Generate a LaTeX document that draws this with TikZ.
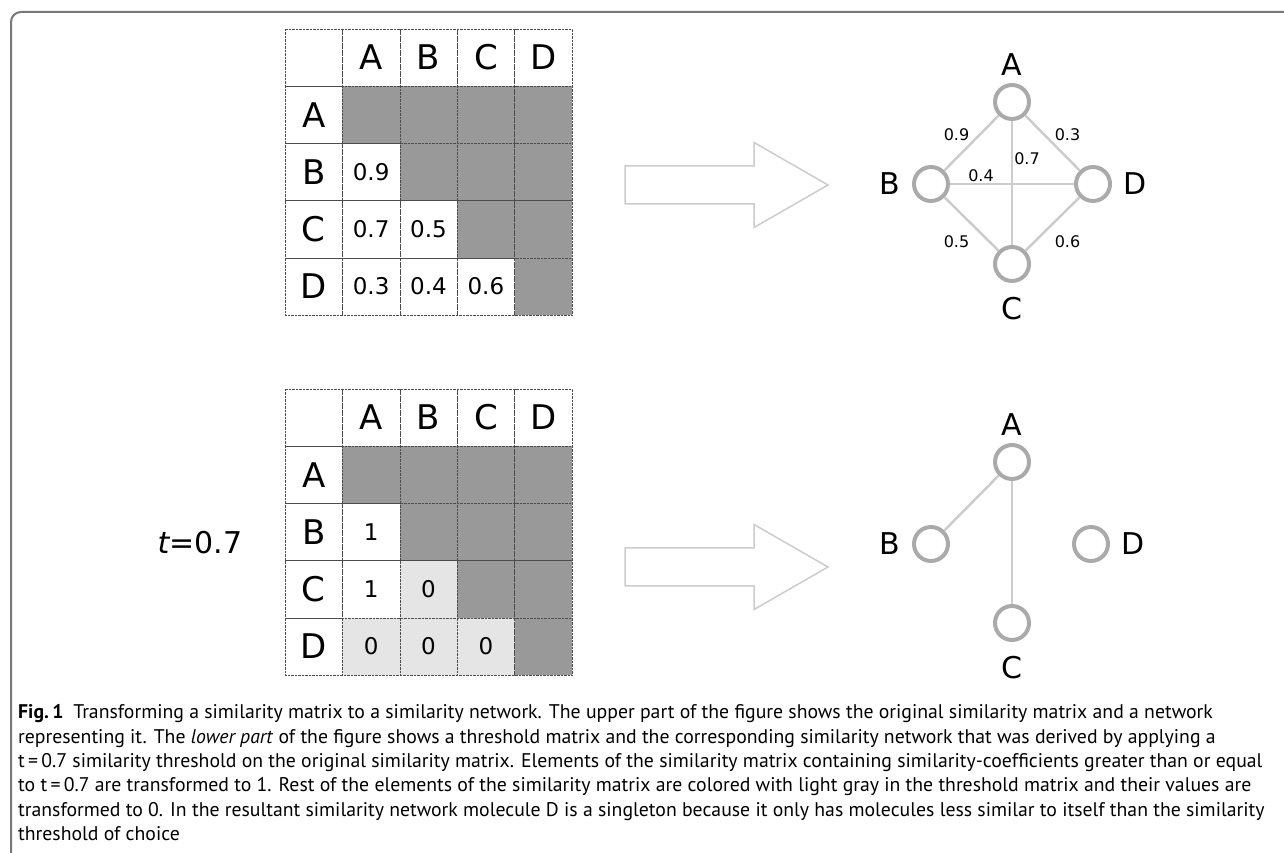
\documentclass[tikz,border=0pt]{standalone}
\usepackage{fontspec}
\setmainfont{DejaVu Sans}
\newfontfamily\capfont{PT Sans}
\usetikzlibrary{matrix, positioning}
\definecolor{darkcell}{RGB}{153,153,153}
\definecolor{lightcell}{RGB}{229,229,229}
\definecolor{ringgray}{RGB}{170,170,170}
\definecolor{edgegray}{RGB}{204,204,204}
\definecolor{framegray}{RGB}{120,120,120}
\tikzset{
    cellnode/.style = {draw=black!70, densely dotted, rectangle, minimum width=57.5pt,
      minimum height=57.3pt, inner sep=0pt, anchor=center, font=\fontsize{23}{23}\selectfont},
    headnode/.style = {font=\fontsize{34}{34}\selectfont},
    dk/.style = {fill=darkcell},
    lt/.style = {fill=lightcell},
    ringnode/.style = {circle, draw=ringgray, line width=4pt, minimum size=34pt, inner sep=0pt, fill=white},
    namenode/.style = {font=\fontsize{30}{30}\selectfont, inner sep=0pt},
    weightnode/.style = {font=\fontsize{16}{16}\selectfont, inner sep=1pt},
    link/.style = {draw=edgegray, line width=2.5pt},
    bigarrow/.style = {draw=edgegray, line width=1.5pt, line join=miter},
    simmatrix/.style = {matrix of nodes, nodes in empty cells, nodes={cellnode},
      column sep=-0.5pt, row sep=-0.5pt,
      row 1/.style={nodes={headnode}}, column 1/.style={nodes={headnode}}}
}

\begin{document}
\begin{tikzpicture}[x=1pt, y=1pt]
\useasboundingbox (0,0) rectangle (1284,853);
\draw[framegray, line width=2pt, rounded corners=10pt] (1284,841) -- (11,841) -- (11,0);

% upper part: similarity matrix and its network
\matrix[simmatrix, name=simmat] at (428.5,681) {
      & A & B & C & D \\
    A & |[dk]| & |[dk]| & |[dk]| & |[dk]| \\
    B & 0.9 & |[dk]| & |[dk]| & |[dk]| \\
    C & 0.7 & 0.5 & |[dk]| & |[dk]| \\
    D & 0.3 & 0.4 & 0.6 & |[dk]| \\
};
\coordinate (arrowtop) at (625,668);
\draw[bigarrow] (arrowtop) ++(0,19) -- ++(129,0) -- ++(0,23.5) -- ++(74,-42.5)
  -- ++(-74,-42.5) -- ++(0,23.5) -- ++(-129,0) -- cycle;

\node[ringnode, name=nA] at (1012,751) {};
\node[ringnode, name=nB] at (931,669) {};
\node[ringnode, name=nD] at (1093,669) {};
\node[ringnode, name=nC] at (1012,589) {};
\node[namenode, above=7pt of nA] (lA) {A};
\node[namenode, left=12pt of nB] (lB) {B};
\node[namenode, right=11pt of nD] (lD) {D};
\node[namenode, below=14pt of nC] (lC) {C};
\draw[link] (nA) -- node[weightnode, above left] (wAB) {0.9} (nB);
\draw[link] (nA) -- node[weightnode, above right] (wAD) {0.3} (nD);
\draw[link] (nA) -- node[weightnode, pos=0.3, right] (wAC) {0.7} (nC);
\draw[link] (nB) -- node[weightnode, pos=0.25, above] (wBD) {0.4} (nD);
\draw[link] (nB) -- node[weightnode, below left, yshift=-9pt] (wBC) {0.5} (nC);
\draw[link] (nD) -- node[weightnode, below right, yshift=-9pt] (wDC) {0.6} (nC);

% lower part: threshold matrix and its network
\node[namenode, name=thres] at (200,310) {{\itshape t}=0.7};
\matrix[simmatrix, name=thrmat] at (428.5,321) {
      & A & B & C & D \\
    A & |[dk]| & |[dk]| & |[dk]| & |[dk]| \\
    B & 1 & |[dk]| & |[dk]| & |[dk]| \\
    C & 1 & |[lt]| 0 & |[dk]| & |[dk]| \\
    D & |[lt]| 0 & |[lt]| 0 & |[lt]| 0 & |[dk]| \\
};
\coordinate (arrowbot) at (625,286);
\draw[bigarrow] (arrowbot) ++(0,19) -- ++(129,0) -- ++(0,23.5) -- ++(74,-42.5)
  -- ++(-74,-42.5) -- ++(0,23.5) -- ++(-129,0) -- cycle;

\node[ringnode, name=mA] at (1012,391) {};
\node[ringnode, name=mB] at (931,309) {};
\node[ringnode, name=mD] at (1091,309) {};
\node[ringnode, name=mC] at (1012,230) {};
\node[namenode, above=7pt of mA] (kA) {A};
\node[namenode, left=12pt of mB] (kB) {B};
\node[namenode, right=11pt of mD] (kD) {D};
\node[namenode, below=14pt of mC] (kC) {C};
\draw[link] (mA) -- (mB);
\draw[link] (mA) -- (mC);

% caption
\node[anchor=base west, align=left, inner sep=0pt, name=caption,
  font=\capfont\fontsize{19.75}{24.3}\selectfont] at (18,12.5) {%
{\bfseries Fig.\,1}\enspace Transforming a similarity matrix to a similarity network. The upper part of the figure shows the original similarity matrix and a network\\
representing it. The \textit{lower part} of the figure shows a threshold matrix and the corresponding similarity network that was derived by applying a\\
t\,=\,0.7 similarity threshold on the original similarity matrix. Elements of the similarity matrix containing similarity-coefficients greater than or equal\\
to t\,=\,0.7 are transformed to 1. Rest of the elements of the similarity matrix are colored with light gray in the threshold matrix and their values are\\
transformed to 0. In the resultant similarity network molecule D is a singleton because it only has molecules less similar to itself than the similarity\\
threshold of choice};
\end{tikzpicture}
\end{document}
